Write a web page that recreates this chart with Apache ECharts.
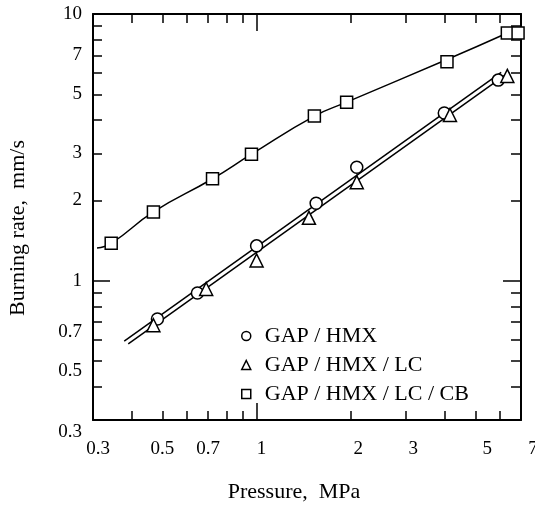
<!DOCTYPE html>
<html>
<head>
<meta charset="utf-8">
<script src="https://cdn.jsdelivr.net/npm/echarts@6/dist/echarts.min.js"></script>
<style>
  html, body { margin: 0; padding: 0; background: #fff; }
  #chart { width: 535px; height: 509px; }
</style>
</head>
<body>
<div id="chart"></div>
<script>
// tick positions
const xLabels = [0.3, 0.5, 0.7, 1, 2, 3, 5, 7]
const xMinor = [0.4, 0.5, 0.6, 0.7, 0.8, 0.9, 2, 3, 4, 5, 6]
const yLabels = [0.3, 0.5, 0.7, 1, 2, 3, 5, 7, 10]
const yMinor = [0.4, 0.5, 0.6, 0.7, 0.8, 0.9, 2, 3, 4, 5, 6, 7, 8, 9]
const major = [1]

// measured points
const hmxP = [0.482, 0.647, 1.0, 1.55, 2.09, 3.98, 5.92]
const hmxR = [0.718, 0.898, 1.35, 1.95, 2.66, 4.25, 5.65]
const lcP = [0.468, 0.69, 1.0, 1.47, 2.09, 4.15, 6.33]
const lcR = [0.68, 0.93, 1.19, 1.72, 2.34, 4.18, 5.86]
const cbP = [0.343, 0.468, 0.723, 0.963, 1.53, 1.94, 4.06, 6.33, 6.85]
const cbR = [1.38, 1.81, 2.41, 2.98, 4.14, 4.67, 6.62, 8.49, 8.49]

// fitted curves
const hmxFitP = [0.3775, 6.05]
const hmxFitR = [0.5926, 6.04]
const lcFitP = [0.3889, 6.42]
const lcFitR = [0.5793, 6.05]
const cbFitP = [0.309, 0.343, 0.468, 0.723, 0.963, 1.53, 1.94, 4.06, 6.33]
const cbFitR = [1.325, 1.38, 1.81, 2.41, 2.98, 4.14, 4.67, 6.75, 8.49]

const names = ['GAP / HMX', 'GAP / HMX / LC', 'GAP / HMX / LC / CB']

const FONT = 'Liberation Serif'
const zip = (a, b) => a.map((v, i) => [v, b[i]])
const fmt = (v) => String(+(+v).toPrecision(3))

const logAxis = (min, max, position, ticks, len, extra) => Object.assign({
  type: 'log',
  logBase: 10,
  min: min,
  max: max,
  position: position,
  offset: 0,
  splitLine: { show: false },
  axisLine: { show: false },
  axisTick: {
    show: true,
    inside: true,
    length: len,
    customValues: ticks,
    lineStyle: { color: '#000', width: 1.5 },
  },
  axisLabel: { show: false },
}, extra || {})

const labelText = { fontFamily: FONT, fontSize: 19, color: '#000' }
const frame = { show: true, lineStyle: { color: '#000', width: 2 } }

const chart = echarts.init(document.getElementById('chart'))

const option = {
  backgroundColor: '#fff',
  animation: false,
  grid: {
    left: 93,
    right: 14,
    top: 14,
    bottom: 89,
    containLabel: false,
    outerBoundsMode: 'none',
  },
  legend: {
    orient: 'vertical',
    left: 236,
    top: 320,
    itemGap: 7,
    itemWidth: 9,
    itemHeight: 9,
    data: [
      { name: names[0], icon: 'circle' },
      { name: names[1], icon: 'triangle' },
      { name: names[2], icon: 'rect' },
    ],
    itemStyle: { color: '#fff', borderColor: '#000', borderWidth: 1.5 },
    textStyle: { fontFamily: FONT, fontSize: 22, color: '#000', padding: [0, 0, 0, 9] },
  },
  xAxis: [
    logAxis(0.3, 7, 'bottom', xMinor, 9, {
      name: 'Pressure,  MPa',
      nameLocation: 'middle',
      nameGap: 61,
      nameTextStyle: { fontFamily: FONT, fontSize: 22, color: '#000', padding: [0, 26, 0, 0] },
      axisLine: frame,
      axisLabel: Object.assign({
        show: true,
        customValues: xLabels,
        margin: 20,
        formatter: (v) => {
          const s = fmt(v)
          const cls = { '0.3': 'a', '1': 'a', '2': 'b', '3': 'b', '5': 'c', '7': 'c' }[s] || 'n'
          return '{' + cls + '|' + s + '}'
        },
        rich: {
          n: Object.assign({}, labelText),
          a: Object.assign({ padding: [0, 0, 0, 10] }, labelText),
          b: Object.assign({ padding: [0, 0, 0, 15] }, labelText),
          c: Object.assign({ padding: [0, 0, 0, 24] }, labelText),
        },
      }, labelText),
    }),
    logAxis(0.3, 7, 'bottom', major, 17),
    logAxis(0.3, 7, 'top', xMinor, 9, { axisLine: frame }),
    logAxis(0.3, 7, 'top', major, 17),
  ],
  yAxis: [
    logAxis(0.3, 10, 'left', yMinor, 9, {
      name: 'Burning rate,  mm/s',
      nameLocation: 'middle',
      nameGap: 64,
      nameTextStyle: { fontFamily: FONT, fontSize: 22, color: '#000', padding: [0, 22, 0, 0] },
      axisLine: frame,
      axisLabel: Object.assign({
        show: true,
        customValues: yLabels,
        margin: 11,
        formatter: (v) => {
          const s = fmt(v)
          const cls = s === '0.3' ? 'd' : (+v < 1 ? 'l' : 'n')
          return '{' + cls + '|' + s + '}'
        },
        rich: {
          n: Object.assign({}, labelText),
          l: Object.assign({ padding: [20, 0, 0, 0] }, labelText),
          d: Object.assign({ padding: [24, 0, 0, 0] }, labelText),
        },
      }, labelText),
    }),
    logAxis(0.3, 10, 'left', major, 17),
    logAxis(0.3, 10, 'right', yMinor, 10, { axisLine: frame }),
    logAxis(0.3, 10, 'right', major, 18),
  ],
  series: [
    {
      type: 'line',
      data: zip(hmxFitP, hmxFitR),
      showSymbol: false,
      lineStyle: { color: '#000', width: 1.5 },
      z: 1,
    },
    {
      type: 'line',
      data: zip(lcFitP, lcFitR),
      showSymbol: false,
      lineStyle: { color: '#000', width: 1.5 },
      z: 1,
    },
    {
      type: 'line',
      data: zip(cbFitP, cbFitR),
      showSymbol: false,
      smooth: 0.5,
      lineStyle: { color: '#000', width: 1.5 },
      z: 1,
    },
    {
      name: names[0],
      type: 'scatter',
      data: zip(hmxP, hmxR),
      symbol: 'circle',
      symbolSize: 12,
      itemStyle: { color: '#fff', borderColor: '#000', borderWidth: 1.5, opacity: 1 },
    },
    {
      name: names[1],
      type: 'scatter',
      data: zip(lcP, lcR),
      symbol: 'triangle',
      symbolSize: 13,
      itemStyle: { color: '#fff', borderColor: '#000', borderWidth: 1.5, opacity: 1 },
    },
    {
      name: names[2],
      type: 'scatter',
      data: zip(cbP, cbR),
      symbol: 'rect',
      symbolSize: 12,
      itemStyle: { color: '#fff', borderColor: '#000', borderWidth: 1.5, opacity: 1 },
    },
  ],
}

chart.setOption(option)
</script>
</body>
</html>
